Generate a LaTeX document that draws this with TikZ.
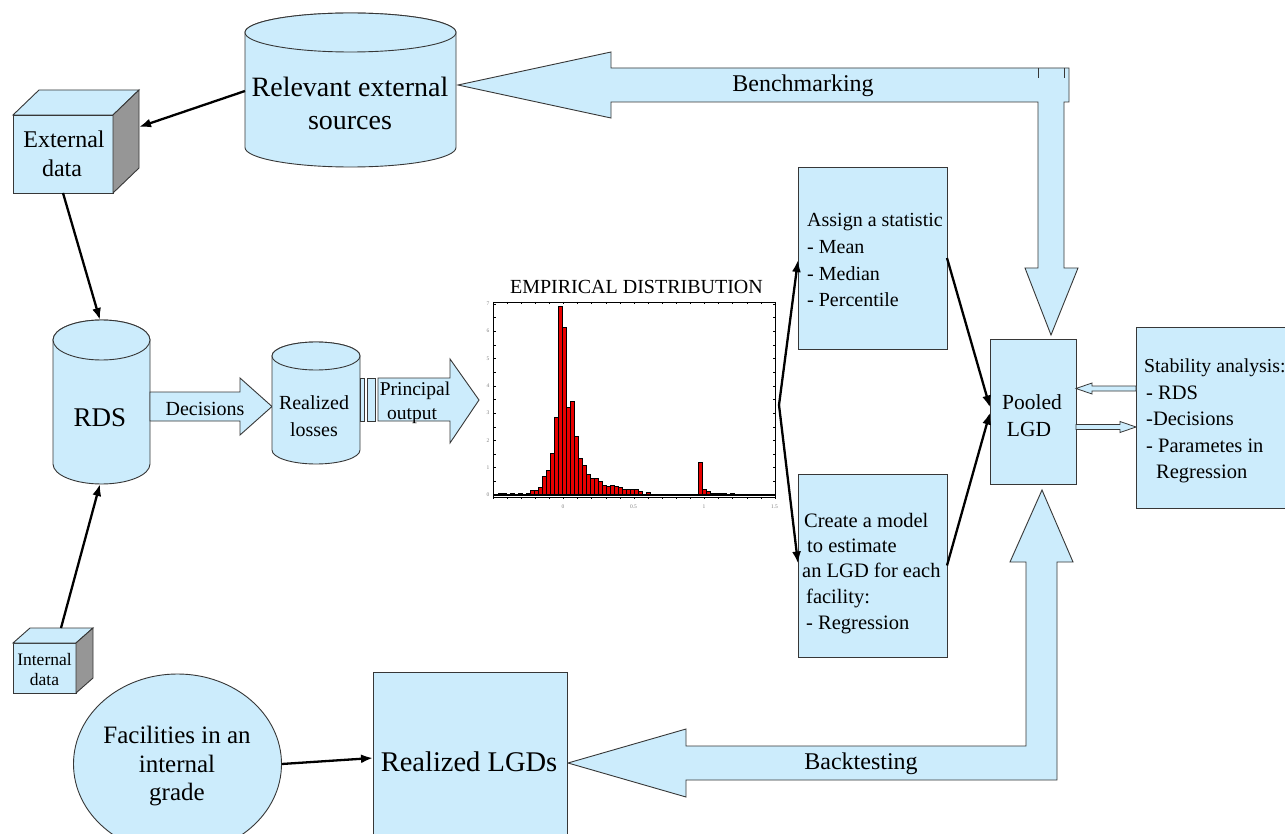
\documentclass[tikz,border=0pt]{standalone}
\usepackage{fontspec}
\setmainfont{Liberation Serif}
\usetikzlibrary{arrows.meta,calc}
\definecolor{lb}{RGB}{204,236,252}
\definecolor{edgec}{RGB}{55,55,55}
\definecolor{sidec}{RGB}{150,150,150}
\definecolor{hred}{RGB}{232,0,0}
\newcommand\drawcyl[5]{%
  \pgfmathsetmacro\cylrx{(#2-#1)/2}%
  \path[shp] (#1,#3+#5) -- (#1,#4-#5) arc[start angle=180,end angle=0,x radius=\cylrx,y radius=#5] -- (#2,#3+#5) arc[start angle=0,end angle=-180,x radius=\cylrx,y radius=#5] -- cycle;
  \path[shp] ({(#1+#2)/2},#3+#5) ellipse[x radius=\cylrx,y radius=#5];
}
\newcommand\drawcube[6]{%
  \path[shp] (#1,#2) rectangle (#3,#4);
  \path[shp] (#1,#2) -- (#1+#5,#2-#6) -- (#3+#5,#2-#6) -- (#3,#2) -- cycle;
  \path[shp,fill=sidec] (#3,#2) -- (#3+#5,#2-#6) -- (#3+#5,#4-#6) -- (#3,#4) -- cycle;
}
\newcommand\fs[2]{\fontsize{#1}{#2}\selectfont}
\begin{document}
\begin{tikzpicture}[x=1pt,y=-1pt,
  shp/.style={fill=lb,draw=edgec,line width=0.9pt},
  boxn/.style={fill=lb,draw=edgec,line width=0.9pt,inner sep=0pt,outer sep=0pt},
  conn/.style={line width=2.3pt,-{Latex[length=12pt,width=9pt]}},
  lbl/.style={inner sep=0pt,text=black},
  bar/.style={fill=hred,draw=black,line width=0.8pt},
  tinyl/.style={inner sep=0pt,text=gray,font=\fs{5.5}{6}}]

\useasboundingbox (0,0) rectangle (1285,834);
\fill[white] (0,0) rectangle (1285,834);
\clip (0,0) rectangle (1285,834);

% ---- Benchmarking arrow (left + down)
\path[shp] (458,85) -- (611,52) -- (611,68) -- (1069,68) -- (1069,102) -- (1064,102) -- (1064,268) -- (1078,268) -- (1051,335) -- (1025,268) -- (1038,268) -- (1038,102) -- (611,102) -- (611,118) -- cycle;
\draw[edgec,line width=0.9pt] (1038,68) -- (1038,78) (1064,68) -- (1064,78);
\node[lbl,anchor=base,font=\fs{24}{28}] (bench) at (803,92) {Benchmarking};

% ---- Backtesting arrow (up + left)
\path[shp] (568,763) -- (686,729) -- (686,746) -- (1026,746) -- (1026,562) -- (1010,562) -- (1042,490) -- (1073,562) -- (1057,562) -- (1057,780) -- (686,780) -- (686,797) -- cycle;
\node[lbl,anchor=base,font=\fs{24}{28}] (back) at (861,769) {Backtesting};

% ---- Relevant external sources
\drawcyl{245}{456}{13}{167}{19.5}
\node[lbl,anchor=base,font=\fs{28}{32}] (res1) at (350,97) {Relevant external};
\node[lbl,anchor=base,font=\fs{28}{32}] (res2) at (350,130) {sources};
\coordinate (resL) at (245,91);

% ---- External data cube
\drawcube{13}{115}{113}{193}{26}{25}
\node[lbl,anchor=base,font=\fs{24}{28}] (ext1) at (64,148) {External};
\node[lbl,anchor=base,font=\fs{24}{28}] (ext2) at (62,177) {data};
\coordinate (extR) at (139,127);
\coordinate (extB) at (63,193);

% ---- RDS
\drawcyl{53}{150}{320}{484}{20}
\node[lbl,anchor=base,font=\fs{27}{30}] (rds) at (100,426) {RDS};
\coordinate (rdsT) at (100,320);
\coordinate (rdsB) at (100,484);

% ---- Internal data cube
\drawcube{13}{643}{76}{693}{17}{15}
\node[lbl,anchor=base,font=\fs{17.5}{20}] (int1) at (44.5,665) {Internal};
\node[lbl,anchor=base,font=\fs{17.5}{20}] (int2) at (44.5,685) {data};
\coordinate (intT) at (61,628);

% ---- Decisions block arrow
\path[shp] (150,392) -- (240,392) -- (240,378) -- (272,406.5) -- (240,435) -- (240,421) -- (150,421) -- cycle;
\node[lbl,anchor=base,font=\fs{20}{24}] (dec) at (205,415) {Decisions};

% ---- Realized losses
\drawcyl{272}{360}{342}{464}{14}
\node[lbl,anchor=base,font=\fs{20}{24}] (rl1) at (314,409) {Realized};
\node[lbl,anchor=base,font=\fs{20}{24}] (rl2) at (314,436) {losses};

% ---- Principal output
\path[shp] (360,378) rectangle (364,421);
\path[shp] (367,378) rectangle (375,421);
\path[shp] (378,378) -- (450,378) -- (450,359) -- (479,400) -- (450,443) -- (450,421) -- (378,421) -- cycle;
\node[lbl,anchor=base,font=\fs{19.5}{24}] (po1) at (415,395) {Principal};
\node[lbl,anchor=base,font=\fs{19.5}{24}] (po2) at (412,419) {output};

% ---- Histogram
\node[lbl,anchor=base,font=\fs{20}{24}] (htitle) at (636.5,294) {EMPIRICAL DISTRIBUTION};
\foreach \i/\h in {-8/0.05,-7/0.05,-6/0.04,-5/0.05,-4/0.03,-3/0.05,-2/0.02,-1/0.05,
  0/0.18,1/0.18,2/0.27,3/0.67,4/0.89,5/1.54,6/2.85,7/6.9,8/6.13,9/3.22,10/3.42,11/2.15,
  12/1.33,13/1.09,14/0.75,15/0.6,16/0.6,17/0.48,18/0.36,19/0.33,20/0.36,21/0.33,22/0.27,
  23/0.2,24/0.2,25/0.2,26/0.2,27/0.12,29/0.1,
  42/1.18,43/0.2,44/0.12,45/0.05,46/0.05,47/0.05,48/0.05,50/0.05}
  \draw[bar] ({530.5+4*\i},495) rectangle ({534.5+4*\i},{495-27.3*\h});
\node[draw=black,line width=0.8pt,minimum width=282pt,minimum height=195pt,inner sep=0pt,outer sep=0pt] (hist) at (634,399.5) {};
\draw[black,line width=1.6pt] (493,495) -- (775,495);
\foreach \j in {0,...,20} {
  \draw[black,line width=0.5pt] ({493+14.1*\j},302) -- ({493+14.1*\j},304.5);
  \draw[black,line width=0.5pt] ({493+14.1*\j},497) -- ({493+14.1*\j},499);
}
\foreach \j in {0,...,14} {
  \draw[black,line width=0.5pt] (493,{495-13.65*\j}) -- (495.5,{495-13.65*\j});
  \draw[black,line width=0.5pt] (775,{495-13.65*\j}) -- (772.5,{495-13.65*\j});
}
\foreach \k in {0,...,7} \node[tinyl] (yl\k) at (488,{495-27.3*\k}) {\k};
\foreach \v/\t [count=\n] in {0/0,0.5/0.5,1/1,1.5/1.5} \node[tinyl] (xl\n) at ({563+141*\v},507) {\t};
\coordinate (hv) at (779,405);

% ---- Assign a statistic box
\node[boxn,minimum width=149pt,minimum height=182pt] (assign) at (872.5,258) {};
\node[lbl,anchor=base west,font=\fs{20}{24}] (as1) at (807,227) {Assign a statistic};
\node[lbl,anchor=base west,font=\fs{20}{24}] (as2) at (807,254) {- Mean};
\node[lbl,anchor=base west,font=\fs{20}{24}] (as3) at (807,281) {- Median};
\node[lbl,anchor=base west,font=\fs{20}{24}] (as4) at (807,307) {- Percentile};

% ---- Create a model box
\node[boxn,minimum width=149pt,minimum height=183pt] (create) at (872.5,565.5) {};
\node[lbl,anchor=base west,font=\fs{20.5}{24}] (cr1) at (804,527) {Create a model};
\node[lbl,anchor=base west,font=\fs{20.5}{24}] (cr2) at (807,552) {to estimate};
\node[lbl,anchor=base west,font=\fs{20.5}{24}] (cr3) at (802,577) {an LGD for each};
\node[lbl,anchor=base west,font=\fs{20.5}{24}] (cr4) at (806,603) {facility:};
\node[lbl,anchor=base west,font=\fs{20.5}{24}] (cr5) at (806,629) {- Regression};

% ---- Pooled LGD
\node[boxn,minimum width=86pt,minimum height=145pt] (pooled) at (1033,411.5) {};
\node[lbl,anchor=base,font=\fs{21.5}{24}] (pl1) at (1032,409) {Pooled};
\node[lbl,anchor=base,font=\fs{21.5}{24}] (pl2) at (1029,436) {LGD};

% ---- Stability analysis
\node[boxn,minimum width=170pt,minimum height=181pt] (stab) at (1221,417.5) {};
\node[lbl,anchor=base west,font=\fs{19.8}{24}] (st1) at (1144,372.5) {Stability analysis:};
\node[lbl,anchor=base west,font=\fs{20.5}{24}] (st2) at (1146,399) {- RDS};
\node[lbl,anchor=base west,font=\fs{20.5}{24}] (st3) at (1146,425.5) {-Decisions};
\node[lbl,anchor=base west,font=\fs{20.5}{24}] (st4) at (1146,452) {- Parametes in};
\node[lbl,anchor=base west,font=\fs{20.5}{24}] (st5) at (1156,478.5) {Regression};

% small arrows between Pooled LGD and Stability
\path[shp,line width=0.8pt] (stab.west |- 0,386) -- (1092,386) -- (1092,383) -- (pooled.east |- 0,388.5) -- (1092,394) -- (1092,391) -- (stab.west |- 0,391) -- cycle;
\path[shp,line width=0.8pt] (pooled.east |- 0,424.5) -- (1120,424.5) -- (1120,421.5) -- (stab.west |- 0,427) -- (1120,432.5) -- (1120,429.5) -- (pooled.east |- 0,429.5) -- cycle;

% ---- Facilities and Realized LGDs
\path[shp] (177.5,764) ellipse[x radius=104,y radius=90];
\node[lbl,inner sep=0pt,minimum width=208pt,minimum height=180pt] (fac) at (177.5,764) {};
\node[lbl,anchor=base,font=\fs{25}{28}] (fa1) at (177,743) {Facilities in an};
\node[lbl,anchor=base,font=\fs{25}{28}] (fa2) at (177,772) {internal};
\node[lbl,anchor=base,font=\fs{25}{28}] (fa3) at (177,800) {grade};
\node[boxn,minimum width=194pt,minimum height=172pt] (rlgd) at (470,758) {};
\node[lbl,anchor=base,font=\fs{28.5}{32}] (rlg) at (469,771) {Realized LGDs};

% ---- Connectors
\draw[conn] (resL) -- (extR);
\draw[conn] (extB) -- (rdsT);
\draw[conn] (intT) -- (rdsB);
\draw[conn] (hv) -- ($(assign.west)+(0,2)$);
\draw[conn] (hv) -- ($(create.west)+(0,-2)$);
\draw[conn] (assign.east) -- ($(pooled.west)+(0,-4)$);
\draw[conn] (create.east) -- ($(pooled.west)+(0,1)$);
\draw[conn] (fac.east) -- (rlgd.west);
\end{tikzpicture}
\end{document}
